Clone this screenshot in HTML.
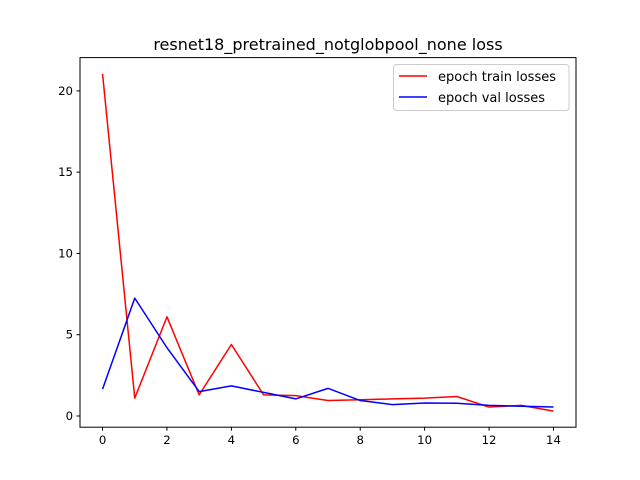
<!DOCTYPE html>
<html><head><meta charset="utf-8"><style>
body{margin:0;background:#fff}
svg{display:block;font-family:"DejaVu Sans","Liberation Sans",sans-serif}
</style></head><body>
<svg id="chart" width="640" height="480">
<rect width="640" height="480" fill="#fff"/>
<text x="328" y="50" text-anchor="middle" font-size="16">resnet18_pretrained_notglobpool_none loss</text>
<g id="ticks"></g>
<g id="series"></g>
<rect x="80" y="57.6" width="496" height="369.6" fill="none" stroke="#000" stroke-width="1"/>
<g>
<rect x="393.5" y="64.5" width="175.5" height="46" rx="3" fill="#fff" fill-opacity="0.8" stroke="#ccc"/>
<line x1="399" y1="76" x2="427" y2="76" stroke="#f00" stroke-width="1.5"/>
<text x="438" y="81" font-size="13">epoch train losses</text>
<line x1="399" y1="97" x2="427" y2="97" stroke="#00f" stroke-width="1.5"/>
<text x="438" y="102" font-size="13">epoch val losses</text>
</g>
</svg>
<script>
const epochs=[0,1,2,3,4,5,6,7,8,9,10,11,12,13,14];
const trainLosses=[21.05,1.1,6.1,1.3,4.4,1.3,1.25,0.95,1.0,1.05,1.1,1.2,0.55,0.65,0.3];
const valLosses=[1.65,7.25,4.2,1.5,1.85,1.45,1.05,1.7,0.95,0.7,0.8,0.78,0.65,0.6,0.55];
const xTicks=[0,2,4,6,8,10,12,14];
const yTicks=[0,5,10,15,20];
const yLimits=[-0.69,22.05];
const NS="http://www.w3.org/2000/svg";
const L=80,R=576,T=57.6,B=427.2;
const xMinD=Math.min(...epochs),xMaxD=Math.max(...epochs);
const xmin=xMinD-0.05*(xMaxD-xMinD),xmax=xMaxD+0.05*(xMaxD-xMinD);
const ymin=yLimits[0],ymax=yLimits[1];
const xs=v=>L+(v-xmin)/(xmax-xmin)*(R-L);
const ys=v=>B-(v-ymin)/(ymax-ymin)*(B-T);
const tg=document.getElementById('ticks');
function mk(tag,attrs){const e=document.createElementNS(NS,tag);for(const k in attrs)e.setAttribute(k,attrs[k]);return e;}
xTicks.forEach(t=>{
 const x=xs(t);
 const l=mk('line',{x1:x,x2:x,y1:B,y2:B+3.5,stroke:'#000'});
 
 
 tg.appendChild(l);
 const tx=mk('text',{x:x,y:B+17,'text-anchor':'middle','font-size':'11.7'});
 tx.textContent=t;
 
 
 tg.appendChild(tx);
});
yTicks.forEach(t=>{
 const y=ys(t);
 const l=mk('line',{x1:L-3.5,x2:L,y1:y,y2:y,stroke:'#000'});
 
 
 tg.appendChild(l);
 const tx=mk('text',{x:L-7,y:y+4,'text-anchor':'end','font-size':'11.7'});
 tx.textContent=t;
 
 
 tg.appendChild(tx);
});
const sg=document.getElementById('series');
[[trainLosses,'#f00','train-loss-line'],[valLosses,'#00f','val-loss-line']].forEach(([d,c,n])=>{
 const p=mk('polyline',{points:d.map((v,i)=>xs(epochs[i])+','+ys(v)).join(' '),fill:'none',stroke:c,'stroke-width':1.5,'stroke-linejoin':'round'});
 
 
 sg.appendChild(p);
});
</script>
</body></html>
